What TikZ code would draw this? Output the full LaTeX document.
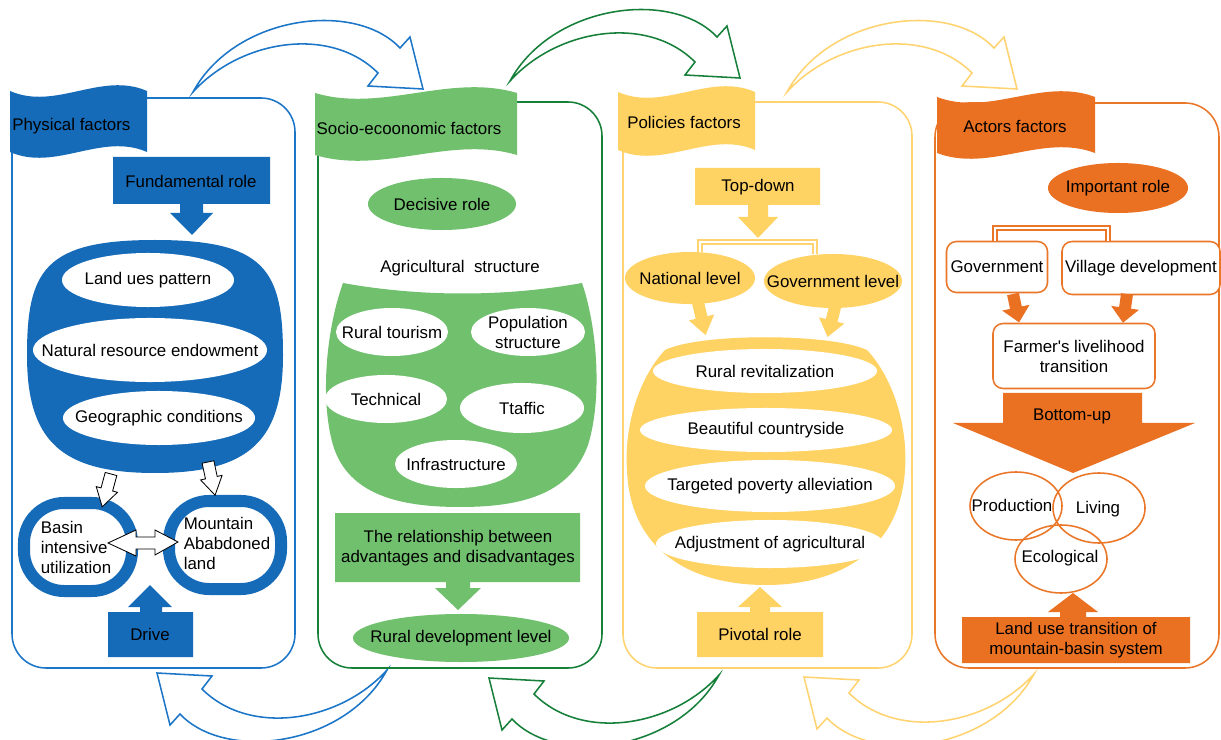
\documentclass[tikz,border=0pt]{standalone}
\usepackage{fontspec}
\setmainfont{Liberation Sans}
\usetikzlibrary{shapes.geometric}
\newcommand\figfont{\fontsize{12}{14.2}\selectfont}
\definecolor{bluefill}{RGB}{22,107,184}
\definecolor{blueline}{RGB}{28,118,200}
\definecolor{greenfill}{RGB}{112,192,110}
\definecolor{greenline}{RGB}{22,128,58}
\definecolor{yellowfill}{RGB}{255,210,100}
\definecolor{yellowline}{RGB}{255,212,112}
\definecolor{orangefill}{RGB}{234,112,34}
\definecolor{orangeline}{RGB}{234,118,40}
% hollow curved arrow linking two neighbouring panels
\newcommand\looparrow[1]{\draw[loopar,#1] (193,92) .. controls (235,15) and (355,0) .. (400,48) -- (410,37) -- (423,89) -- (368,86) -- (378,73) .. controls (330,25) and (240,40) .. (193,92) -- cycle;}
% wavy banner: x0, x1, top, bottom, colour
\newcommand\banner[5]{\fill[#5] (#1,#3) .. controls ({#1+(#2-#1)/3},{#3+20}) and ({#1+2*(#2-#1)/3},{#3-20}) .. (#2,#3) -- (#2,#4) .. controls ({#1+2*(#2-#1)/3},{#4-20}) and ({#1+(#2-#1)/3},{#4+20}) .. (#1,#4) -- cycle;}
\begin{document}
\begin{tikzpicture}[x=0.025cm, y=-0.025cm,
  lbl/.style={font=\figfont, text=black, align=center, inner sep=0pt},
  ell/.style 2 args={ellipse, minimum width={#1*0.05cm}, minimum height={#2*0.05cm}, inner sep=0pt},
  panel/.style={line width=1.1pt, rounded corners=0.85cm},
  loopar/.style={line width=1.1pt, line join=miter},
  openar/.style={draw=black, fill=white, line width=0.6pt},
  ringbox/.style 2 args={rectangle, draw=bluefill, line width=0.3cm, fill=white, rounded corners=1cm, minimum width={#1*0.025cm}, minimum height={#2*0.025cm}, inner sep=0pt},
  bracket/.style={double=white, double distance=2pt, line width=1.1pt},
  tbox/.style 2 args={rectangle, minimum width={#1*0.025cm}, minimum height={#2*0.025cm}, inner sep=2pt, rounded corners=0.25cm, line width=1.1pt, draw=orangeline, fill=white, font=\figfont, align=center},
  ring/.style={draw=orangeline, line width=1.1pt},
]
\useasboundingbox (0,0) rectangle (1221,740);
\fill[white] (0,0) rectangle (1221,740);

% ---- curved arrows between the panels ----
\looparrow{blueline}
\begin{scope}[shift={(317,-11)}]\looparrow{greenline}\end{scope}
\begin{scope}[shift={(594,0)}]\looparrow{yellowline}\end{scope}
\begin{scope}[shift={(580,762)},rotate=180]\looparrow{blueline}\end{scope}
\begin{scope}[shift={(912,767)},rotate=180]\looparrow{greenline}\end{scope}
\begin{scope}[shift={(1227,766)},rotate=180]\looparrow{yellowline}\end{scope}

% ---- panel frames ----
\draw[panel, blueline] (12,98) rectangle (295,668);
\draw[panel, greenline] (318,102) rectangle (602,668);
\draw[panel, yellowline] (623,102) rectangle (912,668);
\draw[panel, orangeline] (935,103) rectangle (1219,668);

% ---- banners ----
\banner{10}{147}{91}{152}{bluefill}
\banner{315}{517}{93}{155}{greenfill}
\banner{618}{755}{92}{150}{yellowfill}
\banner{937}{1095}{97}{153}{orangefill}
\node[lbl, anchor=west] (pf) at (12,126) {Physical factors};
\node[lbl] (sf) at (409,128) {Socio-ecoonomic factors};
\node[lbl] (plf) at (684,122) {Policies factors};
\node[lbl] (af) at (1015,126) {Actors factors};

% ================= physical factors =================
\fill[bluefill] (113,157) -- (270,157) -- (270,204) -- (203,204) -- (203,213) -- (213,213) -- (192,235) -- (170,213) -- (180,213) -- (180,204) -- (113,204) -- cycle;
\node[lbl] (fr) at (191,181) {Fundamental role};
\fill[bluefill] (155,240) .. controls (265,240) and (283,270) .. (283,355)
  .. controls (283,440) and (250,473) .. (155,473)
  .. controls (60,473) and (27,440) .. (27,355)
  .. controls (27,270) and (45,240) .. (155,240) -- cycle;
\node[ell={86}{27}, fill=white] (lup) at (148,280) {};
\node[lbl] (lupt) at (lup) {Land ues pattern};
\node[ell={117}{32}, fill=white] (nre) at (150,350) {};
\node[lbl] (nret) at (nre) {Natural resource endowment};
\node[ell={96}{27}, fill=white] (geo) at (159,418) {};
\node[lbl] (geot) at (geo) {Geographic conditions};
\node[ringbox={108}{88}] (basin) at (78,547) {};
\node[lbl, align=left] (basint) at (76,547) {Basin\\intensive\\utilization};
\node[ringbox={112}{88}] (mount) at (225,545) {};
\node[lbl, align=left] (mountt) at (227,543) {Mountain\\Ababdoned\\land};
\begin{scope}[shift={(111,474)}, rotate=-15]
  \draw[openar] (-6,0) -- (6,0) -- (6,16) -- (11,16) -- (0,34) -- (-11,16) -- (-6,16) -- cycle;
\end{scope}
\begin{scope}[shift={(208,462)}, rotate=12]
  \draw[openar] (-6,0) -- (6,0) -- (6,16) -- (11,16) -- (0,34) -- (-11,16) -- (-6,16) -- cycle;
\end{scope}
\draw[openar] (108,543) -- (136,530) -- (136,537) -- (155,537) -- (155,530) -- (178,542) -- (155,555) -- (155,549) -- (136,549) -- (136,556) -- cycle;
\fill[bluefill] (108,657) -- (108,612) -- (140,612) -- (140,607) -- (128,607) -- (150,585) -- (172,607) -- (162,607) -- (162,612) -- (193,612) -- (193,657) -- cycle;
\node[lbl] (drive) at (150,634) {Drive};

% ================= socio-economic factors =================
\node[ell={74}{26}, fill=greenfill] (dr) at (442,204) {};
\node[lbl] (drt) at (dr) {Decisive role};
\node[lbl] (as) at (460,268) {Agricultural\ \ structure};
\fill[greenfill] (343,283) .. controls (420,297) and (505,297) .. (582,283)
  .. controls (598,330) and (602,400) .. (588,445)
  .. controls (570,495) and (520,507) .. (460,507)
  .. controls (400,507) and (348,495) .. (333,445)
  .. controls (320,400) and (326,330) .. (343,283) -- cycle;
\node[ell={56}{24}, fill=white] (rt) at (392,332) {};
\node[lbl] (rtt) at (rt) {Rural tourism};
\node[ell={57}{24}, fill=white] (ps) at (528,332) {};
\node[lbl] (pst) at (ps) {Population\\structure};
\node[ell={61}{24}, fill=white] (tech) at (386,399) {};
\node[lbl] (techt) at (tech) {Technical};
\node[ell={62}{25}, fill=white] (traf) at (522,408) {};
\node[lbl] (traft) at (traf) {Ttaffic};
\node[ell={61}{24}, fill=white] (inf) at (456,464) {};
\node[lbl] (inft) at (inf) {Infrastructure};
\fill[greenfill] (335,513) -- (580,513) -- (580,582) -- (470,582) -- (470,588) -- (481,588) -- (458,610) -- (435,588) -- (446,588) -- (446,582) -- (335,582) -- cycle;
\node[lbl] (rel) at (458,548) {The relationship between\\advantages and disadvantages};
\node[ell={108}{24}, fill=greenfill] (rdl) at (461,638) {};
\node[lbl] (rdlt) at (rdl) {Rural development level};

% ================= policies factors =================
\fill[yellowfill] (695,168) -- (820,168) -- (820,205) -- (768,205) -- (768,217) -- (778,217) -- (758,238) -- (738,217) -- (748,217) -- (748,205) -- (695,205) -- cycle;
\node[lbl] (td) at (758,187) {Top-down};
\coordinate (tdj) at (758,242);
\node[ell={65}{26}, fill=yellowfill] (nat) at (690,278) {};
\node[lbl] (natt) at (nat) {National level};
\node[ell={69}{27}, fill=yellowfill] (govl) at (833,281) {};
\node[lbl] (govlt) at (govl) {Government level};
\draw[bracket, yellowline] ([xshift=0.25cm]nat.north) |- (tdj) -| ([xshift=-0.45cm]govl.north);
\begin{scope}[shift={(697,298)}, rotate=13]
  \fill[yellowfill] (-6,0) -- (6,0) -- (6,20) -- (13,20) -- (0,38) -- (-13,20) -- (-6,20) -- cycle;
\end{scope}
\begin{scope}[shift={(836,303)}, rotate=-14]
  \fill[yellowfill] (-6,0) -- (6,0) -- (6,18) -- (13,18) -- (0,35) -- (-13,18) -- (-6,18) -- cycle;
\end{scope}
\fill[yellowfill] (665,350) .. controls (700,333) and (830,333) .. (867,350)
  .. controls (895,380) and (908,430) .. (905,470)
  .. controls (900,550) and (840,585) .. (766,585)
  .. controls (690,585) and (630,550) .. (627,470)
  .. controls (624,430) and (637,380) .. (665,350) -- cycle;
\node[ell={112}{22}, fill=white] (rr) at (765,371) {};
\node[lbl] (rrt) at (rr) {Rural revitalization};
\node[ell={126}{22}, fill=white] (bc) at (766,430) {};
\node[lbl] (bct) at (bc) {Beautiful countryside};
\node[ell={125}{26}, fill=white] (tpa) at (770,486) {};
\node[lbl] (tpat) at (tpa) {Targeted poverty alleviation};
\node[ell={114}{24}, fill=white] (adj) at (770,544) {};
\node[lbl] (adjt) at (adj) {Adjustment of agricultural};
\fill[yellowfill] (697,657) -- (697,612) -- (750,612) -- (750,607) -- (738,607) -- (760,587) -- (782,607) -- (770,607) -- (770,612) -- (823,612) -- (823,657) -- cycle;
\node[lbl] (piv) at (760,634) {Pivotal role};

% ================= actors factors =================
\node[ell={70}{25}, fill=orangefill] (ir) at (1118,188) {};
\node[lbl] (irt) at (ir) {Important role};
\node[tbox={101}{51}] (gov) at (997,267) {Government};
\node[tbox={158}{53}] (vil) at (1141,268) {Village development};
\coordinate (aj) at (1050,228);
\draw[bracket, orangeline] ([xshift=-0.05cm]gov.north) |- (aj) -| ([xshift=-0.825cm]vil.north);
\begin{scope}[shift={(1013,294)}, rotate=12]
  \fill[orangefill] (-6,0) -- (6,0) -- (6,14) -- (14,14) -- (0,29) -- (-14,14) -- (-6,14) -- cycle;
\end{scope}
\begin{scope}[shift={(1127,294)}, rotate=-8]
  \fill[orangefill] (-6,0) -- (6,0) -- (6,14) -- (14,14) -- (0,29) -- (-14,14) -- (-6,14) -- cycle;
\end{scope}
\node[tbox={162}{65}] (flt) at (1074,356) {Farmer\textquotesingle s livelihood\\transition};
\fill[orangefill] (1003,393) -- (1142,393) -- (1142,423) -- (1195,423) -- (1073,473) -- (953,423) -- (1003,423) -- cycle;
\node[lbl] (bu) at (1072,416) {Bottom-up};
\node[ell={46}{34}, ring] (prod) at (1016,506) {};
\node[ell={46}{35}, ring] (liv) at (1099,508) {};
\node[ell={46}{34}, ring] (eco) at (1061,559) {};
\node[lbl] (prodt) at (1012,505) {Production};
\node[lbl] (livt) at (1098,509) {Living};
\node[lbl] (ecot) at (1060,558) {Ecological};
\fill[orangefill] (962,663) -- (962,617) -- (1060,617) -- (1060,612) -- (1048,612) -- (1073,593) -- (1098,612) -- (1086,612) -- (1086,617) -- (1190,617) -- (1190,663) -- cycle;
\node[lbl] (lut) at (1076,640) {Land use transition of\\mountain-basin system};
\end{tikzpicture}
\end{document}
